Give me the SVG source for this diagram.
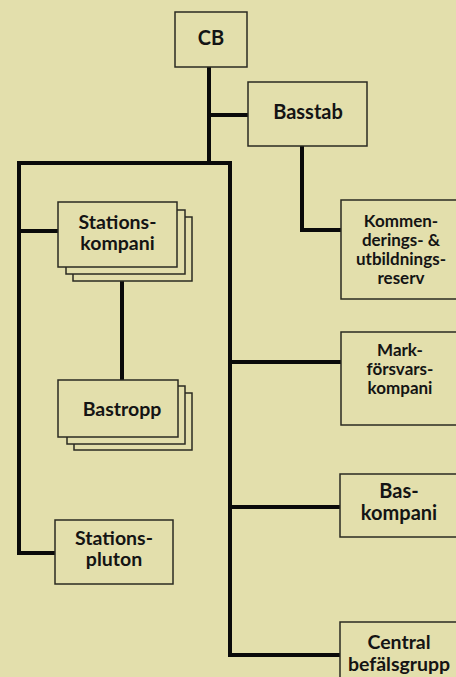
<svg xmlns="http://www.w3.org/2000/svg" width="456" height="677" viewBox="0 0 456 677">
<style>
.bg{fill:#e3dfac}
.box{fill:#e3dfac;stroke:#2b2b22;stroke-width:1.5}
.conn{fill:none;stroke:#0a0a0a;stroke-width:4;stroke-linejoin:miter;stroke-linecap:butt}
text{font-family:Lato,"Open Sans","Liberation Sans",sans-serif;font-weight:bold;fill:#141414;text-anchor:middle}
.l{font-size:20px}
.m{font-size:19.5px}
.s{font-size:17px}
.b{font-size:20px}
.c{font-size:19.5px}
</style>
<rect class="bg" x="0" y="0" width="456" height="677"/>
<g id="connectors">
<path class="conn" d="M209,67 V163"/>
<path class="conn" d="M209,115 H248"/>
<path class="conn" d="M55,553 H19 V163 H230 V655 H340"/>
<path class="conn" d="M19,231 H58"/>
<path class="conn" d="M122,281 V380"/>
<path class="conn" d="M302,146 V230 H341"/>
<path class="conn" d="M230,362 H341"/>
<path class="conn" d="M230,507 H340"/>
</g>
<g id="cb">
<rect class="box" x="175" y="12" width="72" height="55"/>
<text class="l" x="211" y="45">CB</text>
</g>
<g id="basstab">
<rect class="box" x="248" y="82" width="119" height="64"/>
<text class="l" x="308" y="119">Basstab</text>
</g>
<g id="stationskompani">
<rect class="box" x="73" y="217" width="119" height="64"/>
<rect class="box" x="66" y="210" width="119" height="64"/>
<rect class="box" x="58" y="202" width="119" height="65"/>
<text class="m" x="117.5" y="229">Stations-</text>
<text class="m" x="117.5" y="250">kompani</text>
</g>
<g id="bastropp">
<rect class="box" x="74" y="393" width="118" height="57"/>
<rect class="box" x="67" y="386" width="118" height="58"/>
<rect class="box" x="58" y="380" width="120" height="57"/>
<text class="m" x="122" y="416">Bastropp</text>
</g>
<g id="stationspluton">
<rect class="box" x="55" y="520" width="118" height="64"/>
<text class="m" x="114" y="545">Stations-</text>
<text class="m" x="114" y="566">pluton</text>
</g>
<g id="kommenderingsreserv">
<rect class="box" x="341" y="200" width="120" height="99"/>
<text class="s" x="401" y="227">Kommen-</text>
<text class="s" x="401" y="246">derings- &amp;</text>
<text class="s" x="401" y="265">utbildnings-</text>
<text class="s" x="401" y="284">reserv</text>
</g>
<g id="markforsvarskompani">
<rect class="box" x="341" y="332" width="120" height="93"/>
<text class="s" x="400" y="356">Mark-</text>
<text class="s" x="400" y="375">försvars-</text>
<text class="s" x="400" y="394">kompani</text>
</g>
<g id="baskompani">
<rect class="box" x="340" y="474" width="121" height="63"/>
<text class="b" x="399" y="498">Bas-</text>
<text class="b" x="399" y="520">kompani</text>
</g>
<g id="centralbefalsgrupp">
<rect class="box" x="340" y="622" width="121" height="60"/>
<text class="c" x="399" y="649">Central</text>
<text class="c" x="399" y="671">befälsgrupp</text>
</g>
</svg>
